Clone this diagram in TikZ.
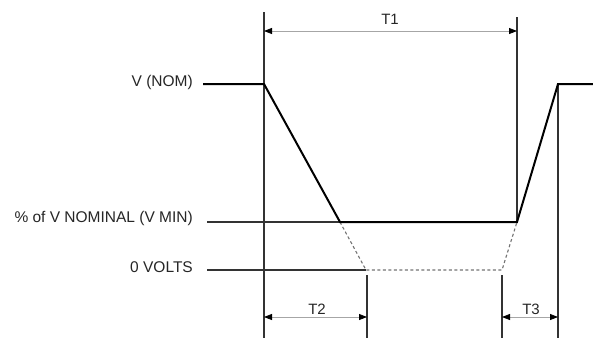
\documentclass[tikz,border=0pt]{standalone}
\usepackage{fontspec}
\setmainfont{Liberation Sans}
\usetikzlibrary{arrows.meta}
\begin{document}
\begin{tikzpicture}[x=1pt,y=-1pt,
  signal/.style={line width=2pt,black,line join=miter},
  refline/.style={line width=1.1pt,black!80},
  dimline/.style={line width=0.8pt,black!35,{Triangle[length=8pt,width=6pt,black]}-{Triangle[length=8pt,width=6pt,black]}},
  dashpart/.style={line width=1.1pt,black!55,dash pattern=on 3pt off 2.5pt},
  lbl/.style={font=\fontsize{15.5}{18}\selectfont,text=black!85,inner sep=0pt,anchor=base east},
  tlbl/.style={font=\fontsize{15}{18}\selectfont,text=black!85,inner sep=0pt,anchor=base}]
\useasboundingbox (0,0) rectangle (593,338);
% signal points
\coordinate (n0) at (203,84);
\coordinate (n1) at (264,84);
\coordinate (m0) at (340,222);
\coordinate (m1) at (517,222);
\coordinate (n2) at (558,84);
\coordinate (n3) at (593,84);
\coordinate (z0) at (366,270);
\coordinate (z1) at (502,270);
\coordinate (pl) at (207,222);
\coordinate (zl) at (207,270);
% vertical line ends
\coordinate (v1t) at (264,12);
\coordinate (v1b) at (264,338);
\coordinate (v2t) at (517,17);
\coordinate (v3b) at (558,338);
\coordinate (v4t) at (367,275);
\coordinate (v4b) at (367,338);
\coordinate (v5t) at (502,275);
\coordinate (v5b) at (502,338);
% arrow ends
\coordinate (t1a) at (264,31);
\coordinate (t1b) at (517,31);
\coordinate (t2a) at (264,317);
\coordinate (t2b) at (367,317);
\coordinate (t3a) at (502,317);
\coordinate (t3b) at (558,317);
% labels
\node[lbl] (lnom) at (193,86) {V (NOM)};
\node[lbl] (lmin) at (193,222) {\% of V NOMINAL (V MIN)};
\node[lbl] (lzero) at (193,272) {0 VOLTS};
\node[tlbl] (lt1) at (390,24) {T1};
\node[tlbl] (lt2) at (317,314) {T2};
\node[tlbl] (lt3) at (531,314) {T3};
% reference lines
\draw[refline] (pl) -- (m0);
\draw[refline] (zl) -- (z0);
\draw[refline] (v1t) -- (v1b);
\draw[refline] (v2t) -- (m1);
\draw[refline] (n2) -- (v3b);
\draw[refline] (v4t) -- (v4b);
\draw[refline] (v5t) -- (v5b);
% dashed
\draw[dashpart] (m0) -- (z0) -- (z1) -- (m1);
% signal
\draw[signal] (n0) -- (n1) -- (m0) -- (m1) -- (n2) -- (n3);
% dimensions
\draw[dimline] (t1a) -- (t1b);
\draw[dimline] (t2a) -- (t2b);
\draw[dimline] (t3a) -- (t3b);
\end{tikzpicture}
\end{document}
